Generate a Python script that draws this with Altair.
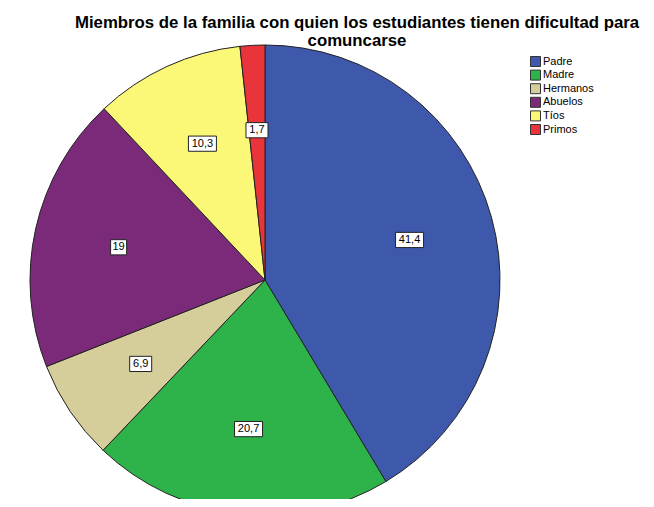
import altair as alt
import pandas as pd

categorias = ["Padre", "Madre", "Hermanos", "Abuelos", "Tíos", "Primos"]
porcentajes = [41.4, 20.7, 6.9, 19.0, 10.3, 1.7]
etiquetas = ["41,4", "20,7", "6,9", "19", "10,3", "1,7"]
colores = ["#3e58ac", "#2eb34a", "#d5cd9a", "#7b2a7a", "#fbf777", "#e8343a"]

df = pd.DataFrame({
    "categoria": categorias,
    "valor": porcentajes,
    "etiqueta": etiquetas,
    "orden": list(range(len(categorias))),
})

R = 235      # pie radius (px)
RL = 150     # label radius (px)
W = 514
H = 424
FONT = "Liberation Sans"

color = alt.Color(
    "categoria:N",
    scale=alt.Scale(domain=categorias, range=colores),
    sort=categorias,
    legend=alt.Legend(
        orient="none", legendX=522, legendY=-12, title=None,
        symbolType="square", symbolSize=100, symbolStrokeColor="#333333",
        symbolStrokeWidth=1, symbolOpacity=1, labelFontSize=11, labelFont=FONT,
        labelColor="#000000", rowPadding=-1.4, labelOffset=2,
    ),
)

pie = alt.Chart(df).mark_arc(outerRadius=R, stroke="#222222", strokeWidth=1).encode(
    theta=alt.Theta("valor:Q", stack=True),
    order=alt.Order("orden:Q"),
    color=color,
)

base = alt.Chart(df).transform_joinaggregate(
    total="sum(valor)"
).transform_window(
    cum="sum(valor)", sort=[alt.SortField("orden")], frame=[None, 0]
).transform_calculate(
    ang="(datum.cum - datum.valor / 2) / datum.total * 2 * PI",
    lx=f"{RL} * sin(datum.ang)",
    ly=f"{RL} * cos(datum.ang)",
    hw="(6 * length(datum.etiqueta) + 4) / 2 / 20",
).transform_calculate(
    caja="'M-' + datum.hw + ',-0.38L' + datum.hw + ',-0.38L' + datum.hw + ',0.38L-' + datum.hw + ',0.38Z'"
)

xenc = alt.X("lx:Q", scale=alt.Scale(domain=[-W / 2, W / 2], nice=False, zero=False), axis=None)
yenc = alt.Y("ly:Q", scale=alt.Scale(domain=[-H / 2, H / 2], nice=False, zero=False), axis=None)

boxes = base.mark_point(
    filled=True, fill="white", stroke="#222222", strokeWidth=1, opacity=1, size=1600
).encode(
    x=xenc, y=yenc,
    shape=alt.Shape("caja:N", scale=None, legend=None),
)

texts = base.mark_text(font=FONT, fontSize=11, color="black").encode(
    x=xenc, y=yenc, text="etiqueta:N"
)

chart = alt.layer(pie, boxes, texts).properties(
    width=W, height=H,
    autosize="none",
    padding={"left": 0, "top": 60, "right": 120, "bottom": 7},
    title=alt.TitleParams(
        ["Miembros de la familia con quien los estudiantes tienen dificultad para", "comuncarse"],
        font=FONT, fontSize=16.8, fontWeight="bold", color="black",
        anchor="middle", dx=92, offset=-7, lineHeight=18,
    ),
).configure_view(strokeWidth=0)

chart.save("out.html", embed_options={"renderer": "svg", "actions": False})
